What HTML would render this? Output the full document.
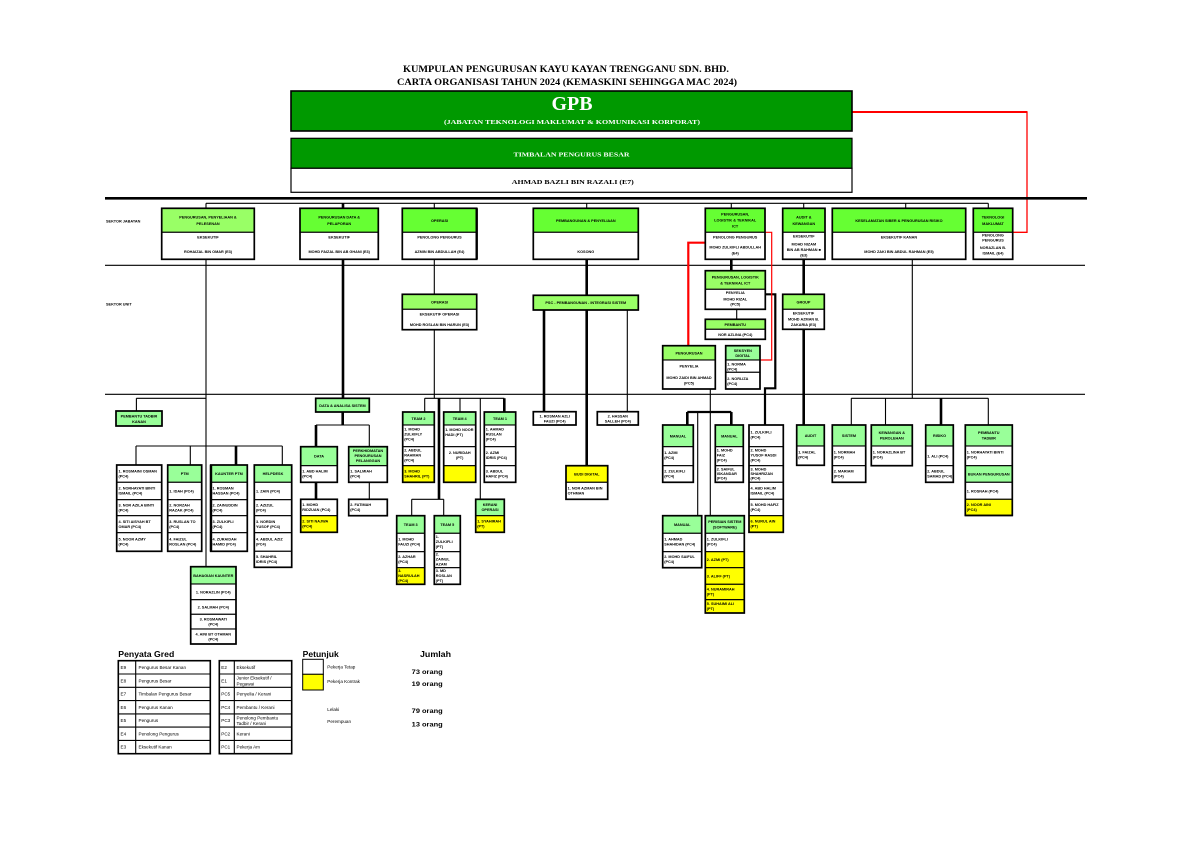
<!DOCTYPE html>
<html><head><meta charset="utf-8">
<style>
html,body{margin:0;padding:0;background:#fff;}
svg{display:block}
.s{font-family:"Liberation Serif",serif;font-weight:bold}
.t{font-family:"Liberation Sans",sans-serif;font-weight:bold;font-size:3.8px;fill:#000}
.c{text-anchor:middle}
.r{stroke:#000;stroke-width:1.1}
.o{fill:none;stroke:#000;stroke-width:1.7}
.g1{fill:#66ff33}
.g2{fill:#99ff66}
.g3{fill:#99ff99}
.y{fill:#ffff00}
.w{fill:#fff}
.ln{stroke:#000;stroke-width:1.1;fill:none}
.tk{stroke:#000;stroke-width:2.6;fill:none}
.lg{font-family:"Liberation Sans",sans-serif;font-size:4.6px;fill:#000}
.lb{font-family:"Liberation Sans",sans-serif;font-weight:bold;fill:#000}
</style></head><body>
<svg width="1191" height="842" viewBox="0 0 1191 842" xmlns="http://www.w3.org/2000/svg">
<rect x="0" y="0" width="1191" height="842" fill="#fff"/>

<!-- Title -->
<text class="s c" x="566" y="72" font-size="9.5" textLength="326" lengthAdjust="spacingAndGlyphs">KUMPULAN PENGURUSAN KAYU KAYAN TRENGGANU SDN. BHD.</text>
<text class="s c" x="567" y="85" font-size="9.5" textLength="340" lengthAdjust="spacingAndGlyphs">CARTA ORGANISASI TAHUN 2024 (KEMASKINI SEHINGGA MAC 2024)</text>

<!-- red line from GPB -->
<line x1="852" y1="112" x2="1027.5" y2="112" stroke="#f00" stroke-width="2"/>
<polyline points="1027,112 1027,232.3 1012.7,232.3" fill="none" stroke="#f00" stroke-width="1.3"/>

<!-- GPB -->
<rect x="291" y="91" width="561" height="40" fill="#009900" stroke="#000" stroke-width="1.6"/>
<text class="s c" x="572" y="110" font-size="20" fill="#fff" textLength="41" lengthAdjust="spacingAndGlyphs">GPB</text>
<text class="s c" x="572" y="124" font-size="6.5" fill="#fff" textLength="256" lengthAdjust="spacingAndGlyphs">(JABATAN TEKNOLOGI MAKLUMAT &amp; KOMUNIKASI KORPORAT)</text>

<rect x="291" y="138.3" width="561" height="30" fill="#009900" stroke="#000" stroke-width="1.2"/>
<rect x="291" y="168.3" width="561" height="24" fill="#fff" stroke="#000" stroke-width="1.2"/>
<text class="s c" x="571.5" y="156.5" font-size="6" fill="#fff" textLength="116" lengthAdjust="spacingAndGlyphs">TIMBALAN PENGURUS BESAR</text>
<text class="s c" x="572.8" y="184" font-size="6.5" fill="#000" textLength="122" lengthAdjust="spacingAndGlyphs">AHMAD BAZLI BIN RAZALI (E7)</text>

<!-- Main horizontal lines -->
<line x1="105" y1="198.3" x2="1087" y2="198.3" stroke="#000" stroke-width="2.6"/>
<line x1="206" y1="203.3" x2="988.3" y2="203.3" class="ln"/>
<line x1="105" y1="265.3" x2="1085" y2="265.3" class="ln"/>
<line x1="105" y1="394.3" x2="1085" y2="394.3" class="ln"/>

<text class="t" x="106" y="222.5">SEKTOR JABATAN</text>
<text class="t" x="106" y="305.5">SEKTOR UNIT</text>

<!-- drops to level1 -->
<path class="ln" d="M206 203.3V208.3 M434.3 203.3V208.3 M586.7 203.3V208.3 M731.3 203.3V208.3 M803.7 203.3V208.3 M905.7 203.3V208.3 M988.3 203.3V208.3"/>
<path class="tk" d="M343 203.3V208.3"/>

<!-- connectors below level 1 -->
<path class="ln" d="M206 259.3V566.7 M434.3 259.3V294.3 M434.3 329.7V398.3 M912.3 259.3V398.3"/>
<path class="tk" d="M343 259.3V398.3 M586.7 259.3V295.3 M586.7 310V465.7 M731.3 259.3V270.7 M803.7 259.3V294.3 M803.7 329.3V425"/>
<!-- right group -->
<path class="ln" d="M851.3 398.3H988.3 M851.3 398.3V425 M885.5 398.3V425 M988.3 398.3V425"/>
<path class="tk" d="M941 398.3V425"/>
<!-- left group -->
<path class="ln" d="M136.4 398.3H206 M136.4 398.3V411 M136 446H282.3 M136 446V465 M190.3 446V465 M282.3 446V465"/>
<path class="tk" d="M236 446V465"/>
<!-- data group -->
<path class="tk" d="M342.7 412V425 M316 425V446.7 M316 482.3V499.3"/>
<path class="ln" d="M316 425H369.3 M369.3 425V446.7 M369.3 482.3V499.3"/>
<!-- operasi group -->
<path class="ln" d="M424.7 398.3H504.3 M424.7 398.3V412 M411.7 499.3H443.7 M411.7 499.3V515.7 M443.7 499.3V515.7 M460 398.3V412 M480.3 398.3V499.3"/>
<path class="tk" d="M439 398.3V499.3 M504.3 398.3V412"/>
<!-- PSC -->
<path class="tk" d="M544 310V411.7"/>
<path class="ln" d="M627.3 310V411.7"/>
<!-- logistik group -->
<path class="ln" d="M736.7 309.3V319.3 M710.3 389V515.7 M697.7 412V515.7"/>
<path d="M765.3 294.3H775.3V388.3H765V425" fill="none" stroke="#000" stroke-width="2.2"/>
<path d="M687.3 412H731.3" fill="none" stroke="#000" stroke-width="2.2"/>
<path class="tk" d="M687.3 412V425 M731.3 412V425"/>
<!-- red lines -->
<polyline points="705.3,242.7 688.3,242.7 688.3,345.7" fill="none" stroke="#f00" stroke-width="2.2"/>
<polyline points="765,232.3 771.7,232.3 771.7,360 760,360" fill="none" stroke="#f00" stroke-width="1.2"/>

<!-- ================= LEVEL 1 BOXES ================= -->
<!-- B1 -->
<rect class="g2 r" x="161.7" y="208.3" width="92.6" height="24"/>
<rect class="w r" x="161.7" y="232.3" width="92.6" height="27"/>
<rect class="o" x="161.7" y="208.3" width="92.6" height="51"/>
<text class="t c" x="208" y="218.7">PENGURUSAN, PENYELIAAN &amp;</text>
<text class="t c" x="208" y="225">PELESENAN</text>
<text class="t c" x="208" y="238.5">EKSEKUTIF</text>
<text class="t c" x="208" y="253">ROHAIZAL BIN OMAR (E3)</text>
<!-- B2 -->
<rect class="g1 r" x="300" y="208.3" width="78.3" height="24"/>
<rect class="w r" x="300" y="232.3" width="78.3" height="27"/>
<rect class="o" x="300" y="208.3" width="78.3" height="51"/>
<text class="t c" x="339.2" y="218.7">PENGURUSAN DATA &amp;</text>
<text class="t c" x="339.2" y="225">PELAPORAN</text>
<text class="t c" x="339.2" y="238.5">EKSEKUTIF</text>
<text class="t c" x="339.2" y="253">MOHD FAIZAL BIN AB GHANI (E3)</text>
<!-- B3 -->
<rect class="g1 r" x="402.3" y="208.3" width="74.4" height="24"/>
<rect class="w r" x="402.3" y="232.3" width="74.4" height="27"/>
<rect class="o" x="402.3" y="208.3" width="74.4" height="51"/>
<line x1="476.7" y1="208.3" x2="476.7" y2="259.3" stroke="#000" stroke-width="2.4"/>
<text class="t c" x="439.5" y="222">OPERASI</text>
<text class="t c" x="439.5" y="238.5">PENOLONG PENGURUS</text>
<text class="t c" x="439.5" y="253">AZMIN BIN ABDULLAH (E4)</text>
<!-- B4 -->
<rect class="g1 r" x="533.3" y="208.3" width="105" height="24"/>
<rect class="w r" x="533.3" y="232.3" width="105" height="27"/>
<rect class="o" x="533.3" y="208.3" width="105" height="51"/>
<text class="t c" x="585.8" y="222">PEMBANGUNAN &amp; PENYELIAAN</text>
<text class="t c" x="585.8" y="253">KOSONG</text>
<!-- B5 -->
<rect class="g1 r" x="705.3" y="208.3" width="59.7" height="24"/>
<rect class="w r" x="705.3" y="232.3" width="59.7" height="27"/>
<rect class="o" x="705.3" y="208.3" width="59.7" height="51"/>
<text class="t c" x="735.2" y="215.5">PENGURUSAN,</text>
<text class="t c" x="735.2" y="221.5">LOGISTIK &amp; TEKNIKAL</text>
<text class="t c" x="735.2" y="227.5">ICT</text>
<text class="t c" x="735.2" y="238.5">PENOLONG PENGURUS</text>
<text class="t c" x="735.2" y="248.5">MOHD ZULKIFLI ABDULLAH</text>
<text class="t c" x="735.2" y="254.5">(E4)</text>
<!-- B6 -->
<rect class="g1 r" x="782.7" y="208.3" width="42.3" height="24"/>
<rect class="w r" x="782.7" y="232.3" width="42.3" height="27"/>
<rect class="o" x="782.7" y="208.3" width="42.3" height="51"/>
<text class="t c" x="803.8" y="218.7">AUDIT &amp;</text>
<text class="t c" x="803.8" y="225">KEWANGAN</text>
<text class="t c" x="803.8" y="237.5">EKSEKUTIF</text>
<text class="t c" x="803.8" y="245.5">MOHD NIZAM</text>
<text class="t c" x="803.8" y="251">BIN AB RAHMAN ■</text>
<text class="t c" x="803.8" y="256.5">(E3)</text>
<!-- B7 -->
<rect class="g1 r" x="832.3" y="208.3" width="133.4" height="24"/>
<rect class="w r" x="832.3" y="232.3" width="133.4" height="27"/>
<rect class="o" x="832.3" y="208.3" width="133.4" height="51"/>
<text class="t c" x="899" y="222">KESELAMATAN SIBER &amp; PENGURUSAN RISIKO</text>
<text class="t c" x="899" y="238.5">EKSEKUTIF KANAN</text>
<text class="t c" x="899" y="253">MOHD ZAKI BIN ABDUL RAHMAN (E5)</text>
<!-- B8 -->
<rect class="g1 r" x="973.3" y="208.3" width="39.4" height="24"/>
<rect class="w r" x="973.3" y="232.3" width="39.4" height="27"/>
<rect class="o" x="973.3" y="208.3" width="39.4" height="51"/>
<text class="t c" x="993" y="218.7">TEKNOLOGI</text>
<text class="t c" x="993" y="225">MAKLUMAT</text>
<text class="t c" x="993" y="236.5">PENOLONG</text>
<text class="t c" x="993" y="241.5">PENGURUS</text>
<text class="t c" x="993" y="249">NORAZLAN B.</text>
<text class="t c" x="993" y="254.5">ISMAIL (E4)</text>

<!-- ================= LEVEL 2 BOXES ================= -->
<rect class="g2 r" x="402.3" y="294.3" width="74.4" height="15"/>
<rect class="w r" x="402.3" y="309.3" width="74.4" height="20.4"/>
<rect class="o" x="402.3" y="294.3" width="74.4" height="35.4"/>
<text class="t c" x="439.5" y="303.3">OPERASI</text>
<text class="t c" x="439.5" y="315.5">EKSEKUTIF OPERASI</text>
<text class="t c" x="439.5" y="326">MOHD ROSLAN BIN HARUN (E3)</text>

<rect class="g2 r" x="533.3" y="295.3" width="105" height="14.7"/>
<rect class="o" x="533.3" y="295.3" width="105" height="14.7"/>
<text class="t c" x="585.8" y="304">PSC - PEMBANGUNAN - INTEGRASI SISTEM</text>

<rect class="g2 r" x="705.3" y="270.7" width="60" height="18.6"/>
<rect class="w r" x="705.3" y="289.3" width="60" height="20"/>
<rect class="o" x="705.3" y="270.7" width="60" height="38.6"/>
<text class="t c" x="735.3" y="278.5">PENGURUSAN, LOGISTIK</text>
<text class="t c" x="735.3" y="284.5">&amp; TEKNIKAL ICT</text>
<text class="t c" x="735.3" y="294">PENYELIA</text>
<text class="t c" x="735.3" y="300.5">MOHD RIZAL</text>
<text class="t c" x="735.3" y="305.5">(PC5)</text>

<rect class="g2 r" x="705.3" y="319.3" width="60" height="10"/>
<rect class="w r" x="705.3" y="329.3" width="60" height="10"/>
<rect class="o" x="705.3" y="319.3" width="60" height="20"/>
<text class="t c" x="735.3" y="326">PEMBANTU</text>
<text class="t c" x="735.3" y="336">NOR AZLINA (PC4)</text>

<rect class="g2 r" x="662.7" y="345.7" width="52.6" height="14.3"/>
<rect class="w r" x="662.7" y="360" width="52.6" height="29"/>
<rect class="o" x="662.7" y="345.7" width="52.6" height="43.3"/>
<text class="t c" x="689" y="354.5">PENGURUSAN</text>
<text class="t c" x="689" y="367.5">PENYELIA</text>
<text class="t c" x="689" y="379">MOHD ZAIDI BIN AHMAD</text>
<text class="t c" x="689" y="384.5">(PC5)</text>

<rect class="g3 r" x="725.7" y="345.7" width="34.3" height="14.3"/>
<rect class="w r" x="725.7" y="360" width="34.3" height="12.3"/>
<rect class="w r" x="725.7" y="372.3" width="34.3" height="16.7"/>
<rect class="o" x="725.7" y="345.7" width="34.3" height="43.3"/>
<text class="t c" x="742.8" y="351.8">SEKSYEN</text>
<text class="t c" x="742.8" y="357.2">DIGITAL</text>
<text class="t" x="727.3" y="365.3">1. NORMA</text>
<text class="t" x="727.3" y="370.3">(PC4)</text>
<text class="t" x="727.3" y="379.8">2. NORLIZA</text>
<text class="t" x="727.3" y="384.8">(PC4)</text>

<rect class="g2 r" x="782.7" y="294.3" width="41.6" height="15"/>
<rect class="w r" x="782.7" y="309.3" width="41.6" height="20"/>
<rect class="o" x="782.7" y="294.3" width="41.6" height="35"/>
<text class="t c" x="803.5" y="303.5">GROUP</text>
<text class="t c" x="803.5" y="314.5">EKSEKUTIF</text>
<text class="t c" x="803.5" y="320.5">MOHD AZMAN B.</text>
<text class="t c" x="803.5" y="326">ZAKARIA (E3)</text>

<!-- ================= LEVEL 3 LEFT ================= -->
<rect class="g3 r" x="116" y="411" width="46" height="15"/>
<rect class="o" x="116" y="411" width="46" height="15"/>
<text class="t c" x="139" y="417.3">PEMBANTU TADBIR</text>
<text class="t c" x="139" y="422.8">KANAN</text>

<rect class="w r" x="116.7" y="465" width="45" height="17.3"/>
<rect class="w r" x="116.7" y="482.3" width="45" height="17.4"/>
<rect class="w r" x="116.7" y="499.7" width="45" height="16"/>
<rect class="w r" x="116.7" y="515.7" width="45" height="17"/>
<rect class="w r" x="116.7" y="532.7" width="45" height="18.6"/>
<rect class="o" x="116.7" y="465" width="45" height="86.3"/>
<text class="t" x="118.5" y="472.4">1. ROSMAINI OSMAN</text><text class="t" x="118.5" y="477.4">(PC4)</text>
<text class="t" x="118.5" y="489.7">2. NORHAYATI BINTI</text><text class="t" x="118.5" y="494.7">ISMAIL (PC4)</text>
<text class="t" x="118.5" y="506.4">3. NOR AZILA BINTI</text><text class="t" x="118.5" y="511.4">(PC4)</text>
<text class="t" x="118.5" y="522.9">4. SITI AISYAH BT</text><text class="t" x="118.5" y="527.9">OMAR (PC4)</text>
<text class="t" x="118.5" y="540.7">5. NOOR AZMY</text><text class="t" x="118.5" y="545.7">(PC4)</text>

<rect class="g3 r" x="167.7" y="465" width="34" height="17.3"/>
<rect class="w r" x="167.7" y="482.3" width="34" height="17.4"/>
<rect class="w r" x="167.7" y="499.7" width="34" height="16"/>
<rect class="w r" x="167.7" y="515.7" width="34" height="17"/>
<rect class="w r" x="167.7" y="532.7" width="34" height="18.6"/>
<rect class="o" x="167.7" y="465" width="34" height="86.3"/>
<text class="t c" x="184.7" y="475.2">PTM</text>
<text class="t" x="169.3" y="492.5">1. IDAH (PC4)</text>
<text class="t" x="169.3" y="506.4">2. NORZAH</text><text class="t" x="169.3" y="511.4">RAZAK (PC4)</text>
<text class="t" x="169.3" y="522.9">3. RUSLAN TO</text><text class="t" x="169.3" y="527.9">(PC4)</text>
<text class="t" x="169.3" y="540.7">4. FAIZUL</text><text class="t" x="169.3" y="545.7">ROSLAN (PC4)</text>

<rect class="g3 r" x="210.7" y="465" width="36.6" height="17.3"/>
<rect class="w r" x="210.7" y="482.3" width="36.6" height="17.4"/>
<rect class="w r" x="210.7" y="499.7" width="36.6" height="16"/>
<rect class="w r" x="210.7" y="515.7" width="36.6" height="17"/>
<rect class="w r" x="210.7" y="532.7" width="36.6" height="18.6"/>
<rect class="o" x="210.7" y="465" width="36.6" height="86.3"/>
<line x1="211" y1="465" x2="211" y2="551.3" stroke="#000" stroke-width="2.4"/>
<text class="t c" x="229" y="475.2">KAUNTER PTM</text>
<text class="t" x="212.5" y="489.7">1. ROSMAN</text><text class="t" x="212.5" y="494.7">HASSAN (PC4)</text>
<text class="t" x="212.5" y="506.4">2. ZAINUDDIN</text><text class="t" x="212.5" y="511.4">(PC4)</text>
<text class="t" x="212.5" y="522.9">3. ZULKIFLI</text><text class="t" x="212.5" y="527.9">(PC4)</text>
<text class="t" x="212.5" y="540.7">4. ZURAIDAH</text><text class="t" x="212.5" y="545.7">HAMID (PC4)</text>

<rect class="g3 r" x="254.3" y="465" width="37.4" height="17.3"/>
<rect class="w r" x="254.3" y="482.3" width="37.4" height="17.4"/>
<rect class="w r" x="254.3" y="499.7" width="37.4" height="16"/>
<rect class="w r" x="254.3" y="515.7" width="37.4" height="17"/>
<rect class="w r" x="254.3" y="532.7" width="37.4" height="18.6"/>
<rect class="w r" x="254.3" y="551.3" width="37.4" height="16"/>
<rect class="o" x="254.3" y="465" width="37.4" height="102.3"/>
<text class="t c" x="273" y="475.2">HELPDESK</text>
<text class="t" x="256" y="492.5">1. ZAIN (PC4)</text>
<text class="t" x="256" y="506.4">2. AZIZUL</text><text class="t" x="256" y="511.4">(PC4)</text>
<text class="t" x="256" y="522.9">3. NORDIN</text><text class="t" x="256" y="527.9">YUSOF (PC4)</text>
<text class="t" x="256" y="540.7">4. ABDUL AZIZ</text><text class="t" x="256" y="545.7">(PC4)</text>
<text class="t" x="256" y="557.8">5. SHAHRIL</text><text class="t" x="256" y="562.8">IDRIS (PC4)</text>

<rect class="g3 r" x="190.7" y="566.7" width="45.3" height="17.3"/>
<rect class="w r" x="190.7" y="584" width="45.3" height="15.7"/>
<rect class="w r" x="190.7" y="599.7" width="45.3" height="14.6"/>
<rect class="w r" x="190.7" y="614.3" width="45.3" height="14.7"/>
<rect class="w r" x="190.7" y="629" width="45.3" height="15"/>
<rect class="o" x="190.7" y="566.7" width="45.3" height="77.3"/>
<text class="t c" x="213.3" y="576.8">BAHAGIAN KAUNTER</text>
<text class="t c" x="213.3" y="593.3">1. NORAZLIN (PC4)</text>
<text class="t c" x="213.3" y="608.5">2. SALMAH (PC4)</text>
<text class="t c" x="213.3" y="620.5">3. ROSMAWATI</text><text class="t c" x="213.3" y="625.5">(PC4)</text>
<text class="t c" x="213.3" y="635.3">4. AINI BT OTHMAN</text><text class="t c" x="213.3" y="640.3">(PC4)</text>

<!-- ================= LEVEL 3 MIDDLE ================= -->
<rect class="g3 r" x="315.7" y="398.3" width="53.6" height="13.7"/>
<rect class="o" x="315.7" y="398.3" width="53.6" height="13.7"/>
<text class="t c" x="342.5" y="406.8">DATA &amp; ANALISA SISTEM</text>

<rect class="g3 r" x="300.7" y="446.7" width="36.6" height="19"/>
<rect class="w r" x="300.7" y="465.7" width="36.6" height="16.6"/>
<rect class="o" x="300.7" y="446.7" width="36.6" height="35.6"/>
<text class="t c" x="319" y="457.7">DATA</text>
<text class="t" x="302.3" y="472.5">1. ABD HALIM</text><text class="t" x="302.3" y="477.5">(PC4)</text>

<rect class="g3 r" x="348.7" y="446.7" width="38.6" height="19"/>
<rect class="w r" x="348.7" y="465.7" width="38.6" height="16.6"/>
<rect class="o" x="348.7" y="446.7" width="38.6" height="35.6"/>
<text class="t c" x="368" y="452.2">PERKHIDMATAN</text>
<text class="t c" x="368" y="457">PENGURUSAN</text>
<text class="t c" x="368" y="461.8">PELANGGAN</text>
<text class="t" x="350.3" y="472.5">1. SALMIAH</text><text class="t" x="350.3" y="477.5">(PC4)</text>

<rect class="w r" x="300.7" y="499.3" width="36.6" height="16.4"/>
<rect class="y r" x="300.7" y="515.7" width="36.6" height="16.6"/>
<rect class="o" x="300.7" y="499.3" width="36.6" height="33"/>
<text class="t" x="302.3" y="506">1. MOHD</text><text class="t" x="302.3" y="511">RIDZUAN (PC4)</text>
<text class="t" x="302.3" y="522.5">2. SITI NAJWA</text><text class="t" x="302.3" y="527.5">(PC4)</text>

<rect class="w r" x="348.7" y="499.3" width="38.6" height="16.4"/>
<rect class="o" x="348.7" y="499.3" width="38.6" height="16.4"/>
<text class="t" x="350.3" y="506">2. FATIMAH</text><text class="t" x="350.3" y="511">(PC4)</text>

<rect class="g3 r" x="402.7" y="412" width="31.6" height="13"/>
<rect class="w r" x="402.7" y="425" width="31.6" height="21.7"/>
<rect class="w r" x="402.7" y="446.7" width="31.6" height="19"/>
<rect class="y r" x="402.7" y="465.7" width="31.6" height="16.6"/>
<rect class="o" x="402.7" y="412" width="31.6" height="70.3"/>
<text class="t c" x="418.5" y="420">TEAM 2</text>
<text class="t" x="404.2" y="430.5">1. MOHD</text><text class="t" x="404.2" y="435.5">ZULKIFLY</text><text class="t" x="404.2" y="440.5">(PC4)</text>
<text class="t" x="404.2" y="451.5">2. ABDUL</text><text class="t" x="404.2" y="456.5">RAHMAN</text><text class="t" x="404.2" y="461.5">(PC4)</text>
<text class="t" x="404.2" y="472.5">3. MOHD</text><text class="t" x="404.2" y="477.5">SHAHRIL (PT)</text>

<rect class="g3 r" x="443.7" y="412" width="32" height="13"/>
<rect class="w r" x="443.7" y="425" width="32" height="21.7"/>
<rect class="w r" x="443.7" y="446.7" width="32" height="19"/>
<rect class="y r" x="443.7" y="465.7" width="32" height="16.6"/>
<rect class="o" x="443.7" y="412" width="32" height="70.3"/>
<text class="t c" x="459.7" y="420">TEAM 4</text>
<text class="t" x="445.2" y="431">1. MOHD NOOR</text><text class="t" x="445.2" y="436">HADI (PT)</text>
<text class="t c" x="459.7" y="454">2. NURIDAH</text><text class="t c" x="459.7" y="459">(PT)</text>

<rect class="g3 r" x="484.3" y="412" width="31.4" height="13"/>
<rect class="w r" x="484.3" y="425" width="31.4" height="21.7"/>
<rect class="w r" x="484.3" y="446.7" width="31.4" height="19"/>
<rect class="w r" x="484.3" y="465.7" width="31.4" height="16.6"/>
<rect class="o" x="484.3" y="412" width="31.4" height="70.3"/>
<text class="t c" x="500" y="420">TEAM 1</text>
<text class="t" x="485.8" y="430.5">1. AHMAD</text><text class="t" x="485.8" y="435.5">RUSLAN</text><text class="t" x="485.8" y="440.5">(PC4)</text>
<text class="t" x="485.8" y="454">2. AZMI</text><text class="t" x="485.8" y="459">IDRIS (PC4)</text>
<text class="t" x="485.8" y="472.5">3. ABDUL</text><text class="t" x="485.8" y="477.5">HAFIZ (PC4)</text>

<rect class="g3 r" x="396.7" y="515.7" width="28" height="17.6"/>
<rect class="w r" x="396.7" y="533.3" width="28" height="18.4"/>
<rect class="w r" x="396.7" y="551.7" width="28" height="16"/>
<rect class="y r" x="396.7" y="567.7" width="28" height="16.6"/>
<rect class="o" x="396.7" y="515.7" width="28" height="68.6"/>
<text class="t c" x="410.7" y="526">TEAM 3</text>
<text class="t" x="398.2" y="540.5">1. MOHD</text><text class="t" x="398.2" y="545.5">FAUZI (PC4)</text>
<text class="t" x="398.2" y="557.8">2. AZHAR</text><text class="t" x="398.2" y="562.8">(PC4)</text>
<text class="t" x="398.2" y="572">3.</text><text class="t" x="398.2" y="577">NASRULAH</text><text class="t" x="398.2" y="582">(PC4)</text>

<rect class="g3 r" x="434.3" y="515.7" width="26" height="17.6"/>
<rect class="w r" x="434.3" y="533.3" width="26" height="18.4"/>
<rect class="w r" x="434.3" y="551.7" width="26" height="16"/>
<rect class="w r" x="434.3" y="567.7" width="26" height="16.6"/>
<rect class="o" x="434.3" y="515.7" width="26" height="68.6"/>
<text class="t c" x="447.3" y="526">TEAM 5</text>
<text class="t" x="435.8" y="538">1.</text><text class="t" x="435.8" y="543">ZULKIFLI</text><text class="t" x="435.8" y="548">(PT)</text>
<text class="t" x="435.8" y="555.5">2.</text><text class="t" x="435.8" y="560.5">ZAINUL</text><text class="t" x="435.8" y="565.5">AZAM</text>
<text class="t" x="435.8" y="572">3. MD</text><text class="t" x="435.8" y="577">ROSLAN</text><text class="t" x="435.8" y="582">(PT)</text>

<rect class="g3 r" x="475.7" y="499.3" width="28.6" height="16.4"/>
<rect class="y r" x="475.7" y="515.7" width="28.6" height="16.6"/>
<rect class="o" x="475.7" y="499.3" width="28.6" height="33"/>
<text class="t c" x="490" y="506">KERANI</text><text class="t c" x="490" y="511">OPERASI</text>
<text class="t" x="477.2" y="522.5">1. SYAHIRAH</text><text class="t" x="477.2" y="527.5">(PT)</text>

<rect class="w r" x="533.3" y="411.7" width="42.7" height="13.3"/>
<rect class="o" x="533.3" y="411.7" width="42.7" height="13.3"/>
<text class="t c" x="554.7" y="417.3">1. ROSMAN AZLI</text><text class="t c" x="554.7" y="422.3">FAUZI (PC4)</text>
<rect class="w r" x="597.3" y="411.7" width="41" height="13.3"/>
<rect class="o" x="597.3" y="411.7" width="41" height="13.3"/>
<text class="t c" x="617.8" y="417.3">2. HASSAN</text><text class="t c" x="617.8" y="422.3">SALLEH (PC4)</text>

<rect class="y r" x="566" y="465.7" width="41.7" height="16.6"/>
<rect class="w r" x="566" y="482.3" width="41.7" height="17"/>
<rect class="o" x="566" y="465.7" width="41.7" height="33.6"/>
<text class="t c" x="586.8" y="475.5">BUDI DIGITAL</text>
<text class="t" x="567.6" y="489.5">1. NOR AZMAN BIN</text><text class="t" x="567.6" y="494.5">OTHMAN</text>

<!-- ================= LEVEL 3 RIGHT ================= -->
<rect class="g3 r" x="662.7" y="425" width="30.6" height="21.7"/>
<rect class="w r" x="662.7" y="446.7" width="30.6" height="19"/>
<rect class="w r" x="662.7" y="465.7" width="30.6" height="16.6"/>
<rect class="o" x="662.7" y="425" width="30.6" height="57.3"/>
<text class="t c" x="678" y="437.3">MANUAL</text>
<text class="t" x="664.2" y="454">1. AZMI</text><text class="t" x="664.2" y="459">(PC4)</text>
<text class="t" x="664.2" y="472.5">2. ZULKIFLI</text><text class="t" x="664.2" y="477.5">(PC4)</text>

<rect class="g3 r" x="715.3" y="425" width="28" height="21.7"/>
<rect class="w r" x="715.3" y="446.7" width="28" height="19"/>
<rect class="w r" x="715.3" y="465.7" width="28" height="16.6"/>
<rect class="o" x="715.3" y="425" width="28" height="57.3"/>
<text class="t c" x="729.3" y="437.3">MANUAL</text>
<text class="t" x="716.8" y="451.5">1. MOHD</text><text class="t" x="716.8" y="456.5">FAIZ</text><text class="t" x="716.8" y="461.5">(PC4)</text>
<text class="t" x="716.8" y="470.3">2. SAIFUL</text><text class="t" x="716.8" y="475">ISKANDAR</text><text class="t" x="716.8" y="479.7">(PC4)</text>

<rect class="g3 r" x="662.7" y="515.7" width="39" height="17.6"/>
<rect class="w r" x="662.7" y="533.3" width="39" height="18.4"/>
<rect class="w r" x="662.7" y="551.7" width="39" height="16"/>
<rect class="o" x="662.7" y="515.7" width="39" height="52"/>
<text class="t c" x="682.2" y="526">MANUAL</text>
<text class="t" x="664.2" y="540.5">1. AHMAD</text><text class="t" x="664.2" y="545.5">SHAHIDAN (PC4)</text>
<text class="t" x="664.2" y="557.8">2. MOHD SAIFUL</text><text class="t" x="664.2" y="562.8">(PC4)</text>

<rect class="g3 r" x="705.3" y="515.7" width="39" height="17.6"/>
<rect class="w r" x="705.3" y="533.3" width="39" height="18.4"/>
<rect class="y r" x="705.3" y="551.7" width="39" height="16"/>
<rect class="y r" x="705.3" y="567.7" width="39" height="16.6"/>
<rect class="y r" x="705.3" y="584.3" width="39" height="15.4"/>
<rect class="y r" x="705.3" y="599.7" width="39" height="13.3"/>
<rect class="o" x="705.3" y="515.7" width="39" height="97.3"/>
<text class="t c" x="724.8" y="523">PERISIAN SISTEM</text><text class="t c" x="724.8" y="528.3">(SOFTWARE)</text>
<text class="t" x="706.8" y="540.5">1. ZULKIFLI</text><text class="t" x="706.8" y="545.5">(PC4)</text>
<text class="t" x="706.8" y="561.2">2. AZMI (PT)</text>
<text class="t" x="706.8" y="577.5">3. ALIFF (PT)</text>
<text class="t" x="706.8" y="590.5">4. NURAMIRAH</text><text class="t" x="706.8" y="595.5">(PT)</text>
<text class="t" x="706.8" y="605.2">5. SUHAIMI ALI</text><text class="t" x="706.8" y="610.2">(PT)</text>

<rect class="w r" x="749" y="425" width="34.3" height="21.7"/>
<rect class="w r" x="749" y="446.7" width="34.3" height="19"/>
<rect class="w r" x="749" y="465.7" width="34.3" height="16.6"/>
<rect class="w r" x="749" y="482.3" width="34.3" height="17"/>
<rect class="w r" x="749" y="499.3" width="34.3" height="16.4"/>
<rect class="y r" x="749" y="515.7" width="34.3" height="16.6"/>
<rect class="o" x="749" y="425" width="34.3" height="107.3"/>
<text class="t" x="750.5" y="433.5">1. ZULKIFLI</text><text class="t" x="750.5" y="438.5">(PC4)</text>
<text class="t" x="750.5" y="451.5">2. MOHD</text><text class="t" x="750.5" y="456.5">YUSOF RASDI</text><text class="t" x="750.5" y="461.5">(PC4)</text>
<text class="t" x="750.5" y="470.3">3. MOHD</text><text class="t" x="750.5" y="475">SHAHRIZAN</text><text class="t" x="750.5" y="479.7">(PC4)</text>
<text class="t" x="750.5" y="489.5">4. ABD HALIM</text><text class="t" x="750.5" y="494.5">ISMAIL (PC4)</text>
<text class="t" x="750.5" y="506">5. MOHD HAFIZ</text><text class="t" x="750.5" y="511">(PC4)</text>
<text class="t" x="750.5" y="522.5">6. NURUL AIN</text><text class="t" x="750.5" y="527.5">(PT)</text>

<rect class="g3 r" x="796.7" y="425" width="27.6" height="21"/>
<rect class="w r" x="796.7" y="446" width="27.6" height="19.3"/>
<rect class="o" x="796.7" y="425" width="27.6" height="40.3"/>
<text class="t c" x="810.5" y="437">AUDIT</text>
<text class="t" x="798.2" y="453.5">1. FAIZAL</text><text class="t" x="798.2" y="458.5">(PC4)</text>

<rect class="g3 r" x="832.3" y="425" width="33.4" height="21"/>
<rect class="w r" x="832.3" y="446" width="33.4" height="19.7"/>
<rect class="w r" x="832.3" y="465.7" width="33.4" height="16.6"/>
<rect class="o" x="832.3" y="425" width="33.4" height="57.3"/>
<text class="t c" x="849" y="437">SISTEM</text>
<text class="t" x="833.8" y="453.5">1. NORMAH</text><text class="t" x="833.8" y="458.5">(PC4)</text>
<text class="t" x="833.8" y="472.5">2. MARIAM</text><text class="t" x="833.8" y="477.5">(PC4)</text>

<rect class="g3 r" x="871.3" y="425" width="41" height="21"/>
<rect class="w r" x="871.3" y="446" width="41" height="19.7"/>
<rect class="o" x="871.3" y="425" width="41" height="40.7"/>
<text class="t c" x="891.8" y="434">KEWANGAN &amp;</text><text class="t c" x="891.8" y="439.5">PEROLEHAN</text>
<text class="t" x="872.8" y="453.5">1. NORAZLINA BT</text><text class="t" x="872.8" y="458.5">(PC4)</text>

<rect class="g3 r" x="925.7" y="425" width="27.6" height="21"/>
<rect class="w r" x="925.7" y="446" width="27.6" height="19.7"/>
<rect class="w r" x="925.7" y="465.7" width="27.6" height="16.6"/>
<rect class="o" x="925.7" y="425" width="27.6" height="57.3"/>
<text class="t c" x="939.5" y="437">RISIKO</text>
<text class="t" x="927.2" y="457.3">1. ALI (PC4)</text>
<text class="t" x="927.2" y="472.5">2. ABDUL</text><text class="t" x="927.2" y="477.5">SAMAD (PC4)</text>

<rect class="g3 r" x="965.3" y="425" width="47" height="21"/>
<rect class="w r" x="965.3" y="446" width="47" height="19.7"/>
<rect class="g3 r" x="965.3" y="465.7" width="47" height="16.6"/>
<rect class="w r" x="965.3" y="482.3" width="47" height="17"/>
<rect class="y r" x="965.3" y="499.3" width="47" height="16.4"/>
<rect class="o" x="965.3" y="425" width="47" height="90.4"/>
<text class="t c" x="988.8" y="434">PEMBANTU</text><text class="t c" x="988.8" y="439.5">TADBIR</text>
<text class="t" x="966.8" y="453.5">1. NORHAYATI BINTI</text><text class="t" x="966.8" y="458.5">(PC4)</text>
<text class="t c" x="988.8" y="475.5">BUKAN PENGURUSAN</text>
<text class="t" x="966.8" y="492.3">1. ROSNAH (PC4)</text>
<text class="t" x="966.8" y="506">2. NOOR AINI</text><text class="t" x="966.8" y="511">(PC4)</text>

<!-- ================= LEGEND ================= -->
<text class="lb" x="118.3" y="657" font-size="8" textLength="56" lengthAdjust="spacingAndGlyphs">Penyata Gred</text>
<text class="lb" x="302.7" y="657" font-size="8" textLength="36" lengthAdjust="spacingAndGlyphs">Petunjuk</text>
<text class="lb" x="420" y="657" font-size="8" textLength="31" lengthAdjust="spacingAndGlyphs">Jumlah</text>

<g fill="none" stroke="#000" stroke-width="1.1">
<rect x="118.3" y="660.7" width="92" height="93"/>
<line x1="135.7" y1="660.7" x2="135.7" y2="753.7"/>
<path d="M118.3 674H210.3 M118.3 687.3H210.3 M118.3 700.6H210.3 M118.3 713.9H210.3 M118.3 727.1H210.3 M118.3 740.4H210.3"/>
<rect x="219.3" y="660.7" width="72.4" height="93"/>
<line x1="234.3" y1="660.7" x2="234.3" y2="753.7"/>
<path d="M219.3 674H291.7 M219.3 687.3H291.7 M219.3 700.6H291.7 M219.3 713.9H291.7 M219.3 727.1H291.7 M219.3 740.4H291.7"/>
</g>
<rect x="118.3" y="660.7" width="92" height="93" fill="none" stroke="#000" stroke-width="1.6"/>
<rect x="219.3" y="660.7" width="72.4" height="93" fill="none" stroke="#000" stroke-width="1.6"/>

<text class="lg" x="120.5" y="669">E9</text><text class="lg" x="138.5" y="669">Pengurus Besar Kanan</text>
<text class="lg" x="120.5" y="682.3">E8</text><text class="lg" x="138.5" y="682.3">Pengurus Besar</text>
<text class="lg" x="120.5" y="695.6">E7</text><text class="lg" x="138.5" y="695.6">Timbalan Pengurus Besar</text>
<text class="lg" x="120.5" y="708.9">E6</text><text class="lg" x="138.5" y="708.9">Pengurus Kanan</text>
<text class="lg" x="120.5" y="722.2">E5</text><text class="lg" x="138.5" y="722.2">Pengurus</text>
<text class="lg" x="120.5" y="735.4">E4</text><text class="lg" x="138.5" y="735.4">Penolong Pengurus</text>
<text class="lg" x="120.5" y="748.7">E3</text><text class="lg" x="138.5" y="748.7">Eksekutif Kanan</text>

<text class="lg" x="221.3" y="669">E2</text><text class="lg" x="236.5" y="669">Eksekutif</text>
<text class="lg" x="221.3" y="682.3">E1</text><text class="lg" x="236.5" y="679.5">Junior Eksekutif /</text><text class="lg" x="236.5" y="685.3">Pegawai</text>
<text class="lg" x="221.3" y="695.6">PC5</text><text class="lg" x="236.5" y="695.6">Penyelia / Kerani</text>
<text class="lg" x="221.3" y="708.9">PC4</text><text class="lg" x="236.5" y="708.9">Pembantu / Kerani</text>
<text class="lg" x="221.3" y="722.2">PC3</text><text class="lg" x="236.5" y="719.3">Penolong Pembantu</text><text class="lg" x="236.5" y="725">Tadbir / Kerani</text>
<text class="lg" x="221.3" y="735.4">PC2</text><text class="lg" x="236.5" y="735.4">Kerani</text>
<text class="lg" x="221.3" y="748.7">PC1</text><text class="lg" x="236.5" y="748.7">Pekerja Am</text>

<rect x="302.7" y="659.3" width="20.6" height="15" fill="#fff" stroke="#000" stroke-width="1"/>
<rect x="302.7" y="674.3" width="20.6" height="15.7" fill="#ffff00" stroke="#000" stroke-width="1"/>
<text class="lg" x="327.3" y="668.5">Pekerja Tetap</text>
<text class="lg" x="327.3" y="683">Pekerja Kontrak</text>
<text class="lg" x="327.3" y="711">Lelaki</text>
<text class="lg" x="327.3" y="723">Perempuan</text>

<text class="lb" x="411.7" y="673.8" font-size="6" textLength="31" lengthAdjust="spacingAndGlyphs">73 orang</text>
<text class="lb" x="411.7" y="685.8" font-size="6" textLength="31" lengthAdjust="spacingAndGlyphs">19 orang</text>
<text class="lb" x="411.7" y="712.8" font-size="6" textLength="31" lengthAdjust="spacingAndGlyphs">79 orang</text>
<text class="lb" x="411.7" y="726.3" font-size="6" textLength="31" lengthAdjust="spacingAndGlyphs">13 orang</text>
</svg>
</body></html>
